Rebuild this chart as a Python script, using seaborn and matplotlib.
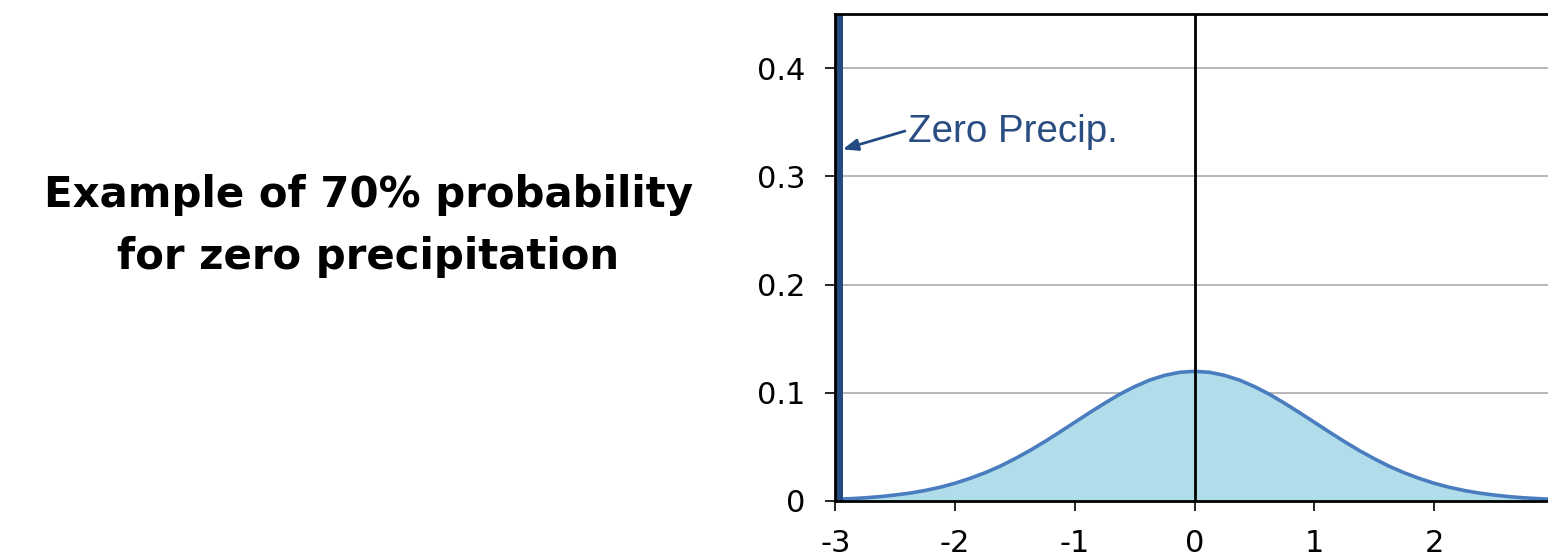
import matplotlib
matplotlib.use("Agg")
import matplotlib.pyplot as plt
import seaborn as sns
import pandas as pd

# ---- data ----
x_vals = [-3.0, -2.875, -2.75, -2.625, -2.5, -2.375, -2.25, -2.125, -2.0, -1.875, -1.75, -1.625,
          -1.5, -1.375, -1.25, -1.125, -1.0, -0.875, -0.75, -0.625, -0.5, -0.375, -0.25, -0.125,
          0.0, 0.125, 0.25, 0.375, 0.5, 0.625, 0.75, 0.875, 1.0, 1.125, 1.25, 1.375, 1.5, 1.625,
          1.75, 1.875, 2.0, 2.125, 2.25, 2.375, 2.5, 2.625, 2.75, 2.875, 3.0]
density = [0.0013, 0.0019, 0.0027, 0.0038, 0.0053, 0.0071, 0.0095, 0.0125, 0.0162, 0.0207, 0.0259,
           0.0319, 0.0389, 0.0465, 0.0548, 0.0636, 0.0726, 0.0816, 0.0903, 0.0985, 0.1056, 0.1116,
           0.1160, 0.1188, 0.1197, 0.1188, 0.1160, 0.1116, 0.1056, 0.0985, 0.0903, 0.0816, 0.0726,
           0.0636, 0.0548, 0.0465, 0.0389, 0.0319, 0.0259, 0.0207, 0.0162, 0.0125, 0.0095, 0.0071,
           0.0053, 0.0038, 0.0027, 0.0019, 0.0013]
zero_x = [-3.0]
zero_prob = [0.70]
x_ticks = [-3, -2, -1, 0, 1, 2]
x_tick_labels = ["-3", "-2", "-1", "0", "1", "2"]
y_ticks = [0, 0.1, 0.2, 0.3, 0.4]
y_tick_labels = ["0", "0.1", "0.2", "0.3", "0.4"]
title_lines = ["Example of 70% probability", "for zero precipitation"]
annot_text = "Zero Precip."

df = pd.DataFrame({"x": x_vals, "y": density})

sns.set_style("white")
plt.rcParams["font.family"] = ["DejaVu Sans"]

fig = plt.figure(figsize=(15.48, 5.52), dpi=100)
ax = fig.add_axes([0.5397, 0.0929, 0.464, 0.8812])

# gridlines
for yv in y_ticks[1:]:
    ax.axhline(yv, color="#ababab", lw=1.2, zorder=1)

ax.fill_between(df["x"], 0, df["y"], color="#b0dde9", lw=0, zorder=2)
sns.lineplot(data=df, x="x", y="y", ax=ax, color="#4a7dbf", lw=2.6, zorder=3)

# zero precip spike
ax.bar(zero_x, zero_prob, width=0.064, align="edge", color="#234b82", lw=0, zorder=7)

# vertical line at 0
ax.axvline(0, color="black", lw=2.0, zorder=5)

ax.set_xlim(-3, 3)
ax.set_ylim(0, 0.45)
ax.set_xticks(x_ticks)
ax.set_xticklabels(x_tick_labels)
ax.set_yticks(y_ticks)
ax.set_yticklabels(y_tick_labels)
ax.set_xlabel("")
ax.set_ylabel("")

for s in ["left", "bottom", "top"]:
    ax.spines[s].set_visible(True)
    ax.spines[s].set_color("black")
    ax.spines[s].set_linewidth(2.0)
    ax.spines[s].set_zorder(9)
ax.spines["right"].set_visible(False)

ax.tick_params(axis="both", direction="out", length=7.5, width=1.2, colors="black",
               labelsize=22)
ax.tick_params(axis="y", pad=14)
ax.tick_params(axis="x", pad=13)
ax.tick_params(left=True, bottom=True)

# annotation
ax.annotate("", xy=(-2.94, 0.325), xytext=(-2.42, 0.342),
            arrowprops=dict(arrowstyle="-|>,head_length=0.9,head_width=0.35",
                            color="#234b82", lw=2.0, shrinkA=0, shrinkB=0), zorder=8)
ax.text(-2.39, 0.332, annot_text, color="#2a4d82", fontsize=27.7,
        family=["Liberation Sans", "DejaVu Sans"], ha="left", va="baseline", zorder=8)

fig.text(0.238, 1 - 207.5 / 552, title_lines[0], ha="center", va="baseline", fontsize=30.2,
         fontweight="bold", color="black")
fig.text(0.238, 1 - 269 / 552, title_lines[1], ha="center", va="baseline", fontsize=30.2,
         fontweight="bold", color="black")

fig.savefig("out.png", dpi=100)
